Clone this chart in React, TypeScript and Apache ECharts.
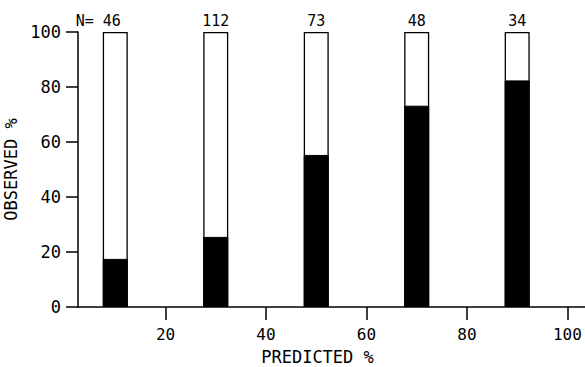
import React, { useEffect, useRef } from "react";
import * as echarts from "echarts";

const binCenters = [10, 30, 50, 70, 90];
const observed = [17.5, 25.5, 55.3, 73.2, 82.4];
const counts = [46, 112, 73, 48, 34];
const xTicks = [20, 40, 60, 80, 100];
const yTicks = [0, 20, 40, 60, 80, 100];

const FONT = "DejaVu Sans Mono";

export default function App() {
  const ref = useRef<HTMLDivElement>(null);
  useEffect(() => {
    if (!ref.current) return;
    const chart = echarts.init(ref.current, undefined, { renderer: "svg" });
    const full = binCenters.map((x, i) => ({
      value: [x, 100],
      label:
        i === 0
          ? { formatter: "N= " + counts[i], offset: [-17, 0] }
          : { formatter: String(counts[i]) },
    }));
    chart.setOption({
      animation: false,
      backgroundColor: "#fff",
      grid: { left: 78, right: 0, top: 32, bottom: 60, containLabel: false, outerBoundsMode: "none" },
      xAxis: {
        type: "value",
        min: 2.58,
        max: 103.5,
        name: "PREDICTED %",
        nameLocation: "middle",
        nameGap: 41,
        nameTextStyle: { fontFamily: FONT, fontSize: 17, color: "#000", padding: [0, 28, 0, 0] },
        axisLine: { show: true, onZero: false, lineStyle: { color: "#000", width: 1.5 } },
        axisTick: { show: true, length: 13, customValues: xTicks, lineStyle: { color: "#000", width: 1.5 } },
        axisLabel: { customValues: xTicks, margin: 19, fontFamily: FONT, fontSize: 16, color: "#000" },
        splitLine: { show: false },
      },
      yAxis: {
        type: "value",
        min: 0,
        max: 100,
        interval: 20,
        name: "OBSERVED %",
        nameLocation: "middle",
        nameGap: 50,
        nameTextStyle: { fontFamily: FONT, fontSize: 17, color: "#000" },
        axisLine: { show: true, onZero: false, lineStyle: { color: "#000", width: 1.5 } },
        axisTick: { show: true, length: 12, customValues: yTicks, lineStyle: { color: "#000", width: 1.5 } },
        axisLabel: { margin: 17, fontFamily: FONT, fontSize: 17, color: "#000" },
        splitLine: { show: false },
      },
      series: [
        {
          type: "bar",
          data: full,
          barWidth: 25,
          barGap: "-100%",
          itemStyle: { color: "#fff", borderColor: "#000", borderWidth: 1.3 },
          label: { show: true, position: "top", distance: 4, fontFamily: FONT, fontSize: 15, color: "#000" },
          z: 2,
        },
        {
          type: "bar",
          data: binCenters.map((x, i) => [x, observed[i]]),
          barWidth: 25,
          barGap: "-100%",
          itemStyle: { color: "#000", borderColor: "#000", borderWidth: 1 },
          z: 3,
        },
      ],
    });
    return () => chart.dispose();
  }, []);
  return (
    <div
      ref={ref}
      style={{ position: "fixed", left: 0, top: 0, width: 585, height: 367, background: "#fff" }}
    />
  );
}
